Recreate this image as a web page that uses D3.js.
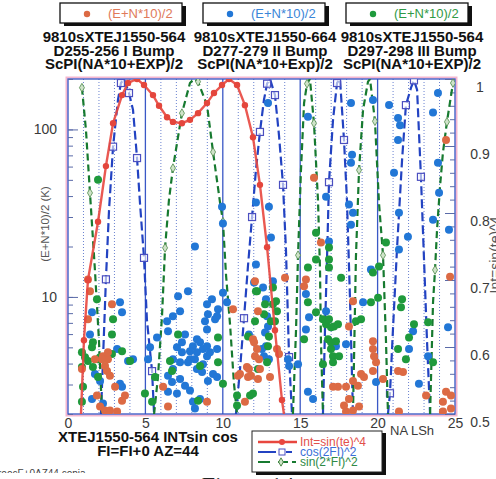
<!DOCTYPE html>
<html>
<head>
<meta charset="utf-8">
<script src="https://cdn.jsdelivr.net/npm/d3@7/dist/d3.min.js"></script>
<style>
  body { margin: 0; background: #fff; }
  svg { display: block; font-family: "Liberation Sans", Arial, sans-serif; }
</style>
</head>
<body>
<svg id="chart" width="496" height="479"></svg>
<script>
'use strict';

// ---- data ----
var xTickLabels = [0, 5, 10, 15, 20, 25];
var leftTickLabels = [10, 100];
var rightTickLabels = [0.5, 0.6, 0.7, 0.8, 0.9, 1];

var titleLine1 = ["9810sXTEJ1550-564", "9810sXTEJ1550-664", "9810sXTEJ1550-564"];
var titleLine2 = ["D255-256 I Bump", "D277-279 II Bump", "D297-298 III Bump"];
var titleLine3 = ["ScPI(NA*10+EXP)/2", "ScPI(NA*10+Exp)/2", "ScPI(NA*10+EXP)/2"];
var seriesNames = ["(E+N*10)/2", "(E+N*10)/2", "(E+N*10)/2"];
var curveNames = ["Int=sin(te)^4", "cos(2FI)^2", "sin(2*FI)^2"];

// Int=sin(te)^4 (right axis)
var intCurve = [[0.84,0.5],[1.03,0.61],[1.29,0.70],[1.94,0.787],[2.45,0.87],[2.91,0.934],[3.49,0.976],
  [3.88,0.994],[4.46,1.0],[4.91,0.991],[5.49,0.976],[5.88,0.96],[6.40,0.943],[6.78,0.936],[7.36,0.934],
  [7.88,0.939],[8.40,0.949],[8.98,0.964],[9.43,0.979],[9.95,0.991],[10.40,1.0],[10.92,0.991],[11.43,0.961],
  [11.95,0.913],[12.40,0.842],[12.86,0.749],[13.37,0.625],[13.82,0.521],[13.95,0.5]];

// cos(2FI)^2 (right axis), one array per visible arc
var cosCurve = [
  [[2.13,0.5],[2.33,0.625],[2.45,0.701],[2.65,0.804],[2.91,0.899],[3.23,0.969],[3.42,0.994],[3.62,1.0],
   [3.94,0.979],[4.20,0.954],[4.46,0.882],[4.65,0.815],[4.91,0.733],[5.10,0.64],[5.43,0.564],[5.56,0.5]],
  [[10.85,0.5],[11.11,0.566],[11.37,0.643],[11.63,0.722],[11.89,0.794],[12.14,0.864],[12.40,0.921],
   [12.66,0.969],[12.86,0.993],[13.05,1.0],[13.37,0.976],[13.63,0.916],[13.89,0.842],[14.08,0.745],
   [14.28,0.585],[14.47,0.5]],
  [[16.47,0.5],[16.60,0.625],[16.73,0.73],[16.86,0.846],[17.12,0.939],[17.38,0.994],[17.57,1.0],
   [17.83,0.909],[18.02,0.819],[18.22,0.67],[18.41,0.5]],
  [[20.67,0.5],[20.80,0.531],[20.99,0.625],[21.25,0.745],[21.58,0.879],[21.83,0.961],[22.16,0.987],
   [22.35,0.998],[22.55,0.984],[22.80,0.854],[23.0,0.73],[23.19,0.61],[23.39,0.5]]
];
var cosMarks = [[2.45,0.701],[2.91,0.899],[3.42,0.994],[3.94,0.979],[4.46,0.882],[4.91,0.733],[5.43,0.564],
  [11.37,0.643],[11.89,0.794],[12.40,0.921],[12.86,0.993],[13.37,0.976],[13.89,0.842],[14.28,0.585],
  [16.86,0.846],[17.38,0.994],[17.83,0.909],[20.80,0.531],[21.83,0.961],[22.35,0.998],[22.80,0.854]];

// sin(2*FI)^2 (right axis)
var sinCurve = [
  [[0.90,0.987],[1.16,0.924],[1.42,0.83],[1.74,0.715],[2.0,0.61],[2.20,0.5]],
  [[5.56,0.5],[5.81,0.555],[6.07,0.645],[6.27,0.748],[6.52,0.819],[6.78,0.867],[7.36,0.949],[7.88,0.994],
   [8.14,1.0],[8.40,0.996],[8.98,0.961],[9.37,0.891],[9.82,0.816],[10.01,0.787],[10.21,0.707],
   [10.47,0.633],[10.72,0.546],[10.92,0.5]],
  [[14.53,0.5],[14.73,0.625],[14.86,0.737],[15.05,0.864],[15.25,0.964],[15.44,0.993],[15.63,1.0],
   [15.89,0.934],[16.15,0.819],[16.28,0.715],[16.34,0.61],[16.47,0.5]],
  [[18.41,0.5],[18.60,0.734],[18.80,0.864],[19.06,0.954],[19.38,0.996],[19.51,1.0],[19.83,0.937],
   [20.09,0.815],[20.35,0.737],[20.54,0.61],[20.67,0.5]],
  [[23.39,0.5],[23.58,0.666],[23.71,0.715],[23.84,0.775],[24.03,0.839],[24.22,0.89],[24.48,0.936],[24.87,0.994]]
];
var sinMarks = [[0.90,0.987],[1.42,0.83],[6.27,0.748],[6.78,0.867],[7.36,0.949],[8.40,0.996],[9.37,0.891],
  [10.01,0.787],[14.86,0.737],[15.44,0.993],[15.89,0.934],[18.80,0.864],[19.83,0.937],[20.35,0.737],
  [23.71,0.715],[24.48,0.936],[24.87,0.994]];

// (E+N*10)/2 scatter, left log axis
var bumpI = [[1.29,12.7],[1.42,10.8],[1.29,7.35],[0.90,3.71],[1.74,4.25],[2.26,4.43],[2.58,4.25],[2.39,3.87],
  [2.52,3.61],[2.71,3.38],[2.84,9.03],[3.04,2.91],[3.68,2.58],[3.49,2.40],[1.87,2.58],[2.07,2.22],[2.39,2.10],
  [2.71,2.10],[3.17,2.07],[2.58,4.68],[2.20,4.25],[6.14,2.91],[6.46,2.22],[8.98,2.37],[10.66,8.44],[10.98,3.38],
  [11.11,3.47],[11.56,3.81],[11.63,3.33],[12.08,12.4],[12.27,8.21],[11.95,5.59],[12.21,4.88],[12.08,4.43],
  [12.40,3.71],[12.27,3.24],[13.05,3.33],[13.50,4.88],[14.02,13.0],[11.43,2.37],[15.37,12.7],[15.25,11.6],
  [12.02,5.36],[12.34,4.25],[11.69,3.71],[11.82,3.38],[13.63,4.56],[18.41,9.41],[18.15,6.67],[19.70,5.44],
  [19.70,4.88],[19.77,4.43],[19.90,4.08],[19.70,3.61],[18.93,3.47],[19.12,3.33],[18.73,2.95],[18.41,3.15],
  [17.96,2.91],[17.44,2.91],[17.12,2.91],[18.15,2.46],[17.83,2.25],[17.96,2.07],[18.41,2.10],[18.80,2.22],
  [21.32,3.61],[21.64,3.56],[21.38,2.07],[23.13,2.58],[24.22,2.37],[24.42,2.72],[24.74,2.58],[24.22,2.07],
  [24.74,2.16],[20.35,3.24],[15.89,51.5],[16.34,21.1],[24.42,86.6],[24.68,13.2]];

var bumpII = [[8.20,20.0],[9.95,34.6],[10.01,27.4],[12.14,36.6],[12.98,34.6],[13.11,22.6],[12.14,15.6],
  [12.92,144],[15.50,119],[16.67,39.7],[16.86,21.4],[18.28,144],[18.35,70.6],[18.28,63.3],[18.15,35.6],
  [18.41,31.8],[18.28,27.0],[19.70,150],[20.74,140],[21.32,117],[21.45,106],[21.32,86.6],[21.06,55.1],
  [21.38,31.8],[21.38,19.2],[21.96,22.9],[23.90,165],[23.58,126],[23.90,63.3],[23.97,41.9],[24.61,25.2],
  [23.58,28.9],[12.02,12.2],[12.79,9.67],[12.92,6.67],[12.66,4.43],[11.69,5.97],[14.28,3.87],[14.86,3.97],
  [15.37,10.4],[15.57,7.56],[15.37,6.40],[15.50,2.72],[15.83,2.46],[16.67,8.21],[17.31,5.08],[17.96,5.22],
  [19.06,9.28],[19.57,14.6],[19.90,3.11],[22.03,4.88],[22.29,6.23],[22.67,3.03],[23.26,4.43],[24.55,6.58],
  [12.79,5.08],[12.98,4.25],[3.36,9.28],[3.49,8.10],[1.55,8.10],[1.42,5.97],[3.17,4.88],[4.20,4.25],
  [3.88,4.14],[1.74,3.47],[2.07,3.15],[3.36,3.03],[3.49,2.91],[1.55,2.46],[2.26,2.31],[5.75,5.73],
  [6.40,7.15],[6.78,7.66],[7.24,8.21],[7.75,10.8],[7.11,10.1],[6.46,6.23],[7.04,5.01],[7.36,4.68],
  [6.78,4.25],[7.88,4.25],[6.78,3.71],[7.24,3.24],[7.75,4.08],[7.36,5.36],[7.56,5.97],[8.33,5.59],
  [8.53,5.36],[8.07,5.08],[8.72,4.88],[8.98,4.43],[8.33,3.71],[8.66,3.56],[8.20,4.25],[8.85,7.15],
  [8.98,6.40],[9.37,3.47],[9.30,9.67],[8.98,9.03],[9.69,8.44],[9.50,7.35],[10.01,10.6],[10.27,9.28],
  [6.46,2.72],[7.04,2.65],[7.56,2.95],[8.07,2.37],[8.20,2.16],[8.53,2.46],[6.46,3.38],[5.17,4.25],
  [5.30,5.01],[9.63,7.66],[9.04,7.88],[7.88,4.74],[7.24,4.08],[8.33,4.68],[8.98,5.08],[9.63,4.88],
  [9.17,4.68],[8.72,3.97],[6.72,3.11],[7.88,2.76],[9.04,3.15],[9.63,3.33],[12.60,11.4],[12.86,7.66],
  [13.24,12.4],[12.73,6.14],[12.53,4.88],[14.21,4.25]];

var bumpIII = [[1.87,9.67],[1.94,50.0],[0.90,4.68],[1.10,4.37],[1.29,4.14],[1.55,5.01],[1.61,5.36],
  [1.94,4.25],[2.07,4.37],[1.61,3.81],[1.94,3.33],[0.90,3.81],[0.97,2.91],[0.90,2.37],[2.91,7.35],
  [2.84,5.97],[2.84,4.56],[3.49,4.74],[4.97,2.65],[5.43,2.37],[6.59,4.14],[6.72,3.61],[7.11,5.97],
  [8.53,3.87],[9.69,5.73],[9.69,4.08],[10.01,3.03],[10.92,2.25],[4.01,4.14],[5.62,3.33],[8.40,2.40],
  [10.92,2.58],[12.21,10.8],[12.73,9.03],[13.24,11.4],[13.24,9.03],[13.37,7.15],[12.92,5.08],[12.08,7.15],
  [11.63,5.81],[12.86,4.08],[12.27,3.71],[11.76,2.58],[13.50,8.21],[15.50,15.0],[16.86,15.0],[17.64,13.0],
  [19.70,14.0],[20.09,15.2],[15.50,9.28],[15.25,5.59],[16.02,8.10],[16.47,7.35],[16.67,6.86],[16.86,7.35],
  [16.99,6.58],[17.18,6.67],[17.44,6.86],[16.80,5.59],[16.99,5.36],[17.31,5.44],[16.99,4.88],[17.12,4.43],
  [17.51,4.43],[17.12,4.08],[16.47,3.97],[18.60,7.15],[18.93,7.35],[19.57,9.28],[20.03,9.90],[21.51,8.68],
  [22.35,6.86],[22.03,5.73],[21.32,4.88],[21.83,4.25],[23.26,7.05],[23.58,4.08],[13.44,9.41],[12.98,5.81],
  [12.14,10.8],[12.66,7.88],[13.11,7.15],[11.95,2.65],[16.02,24.2],[16.86,19.7],[16.02,16.7],[16.86,16.7],
  [20.54,21.1],[21.58,9.67]];

// ---- layout ----
var svg = d3.select("#chart");
var L = 68, R = 455, T = 79, B = 414;

var colRedDot = "#dc6a44", colBlueDot = "#2277d6", colGreenDot = "#1f9a3c";
var colRedLine = "#e8473f", colBlueLine = "#2343c2", colGreenLine = "#177a30";

var x = d3.scaleLinear().domain([0, 25]).range([L, R]);
var yL = d3.scaleLog().domain([2, 200]).range([B, T]);
var yR = d3.scaleLinear().domain([0.5, 1]).range([B, T]);

svg.append("defs").append("clipPath").attr("id", "plotClip")
  .append("rect").attr("x", L).attr("y", T).attr("width", R - L).attr("height", B - T);

// vertical grid lines at each unit
svg.append("g").selectAll("line").data(d3.range(1, 25)).enter().append("line")
  .attr("x1", function (d) { return x(d); }).attr("x2", function (d) { return x(d); })
  .attr("y1", T).attr("y2", B)
  .attr("stroke", function (d) { return d % 5 === 0 ? "#3a58c6" : "#6a82d0"; })
  .attr("stroke-width", function (d) { return d % 5 === 0 ? 1.3 : 1; })
  .attr("stroke-dasharray", function (d) { return d % 5 === 0 ? null : "1,2"; });

// frame: pink halo just outside a blue line
svg.append("rect").attr("x", L - 1.5).attr("y", T - 1.5).attr("width", R - L + 3).attr("height", B - T + 3)
  .attr("fill", "none").attr("stroke", "#f4b6cf").attr("stroke-width", 2);
svg.append("rect").attr("x", L).attr("y", T).attr("width", R - L).attr("height", B - T)
  .attr("fill", "none").attr("stroke", "#3453c4").attr("stroke-width", 1.3);

// left axis ticks (inward)
var leftMinor = svg.append("g").attr("transform", "translate(" + L + ",0)")
  .call(d3.axisRight(yL).tickValues(yL.ticks()).tickSize(5).tickFormat(""));
var leftMajor = svg.append("g").attr("transform", "translate(" + L + ",0)")
  .call(d3.axisRight(yL).tickValues(leftTickLabels).tickSize(10).tickFormat(""));
var leftLab = svg.append("g").attr("transform", "translate(" + L + ",0)")
  .call(d3.axisLeft(yL).tickValues(leftTickLabels).tickSize(0).tickPadding(11).tickFormat(d3.format("d")));

// right axis ticks (inward)
var rightMinor = svg.append("g").attr("transform", "translate(" + R + ",0)")
  .call(d3.axisLeft(yR).tickValues(d3.range(0.5, 1.0001, 0.02)).tickSize(5).tickFormat(""));
var rightMajor = svg.append("g").attr("transform", "translate(" + R + ",0)")
  .call(d3.axisLeft(yR).tickValues(rightTickLabels).tickSize(10).tickFormat(""));
var rightLab = svg.append("g").attr("transform", "translate(" + R + ",0)")
  .call(d3.axisRight(yR).tickValues(rightTickLabels).tickSize(0).tickFormat(d3.format("")));
rightLab.selectAll("text").attr("x", 25).attr("text-anchor", "middle").attr("transform", "translate(0,8)");

var xLab = svg.append("g").attr("transform", "translate(0," + B + ")")
  .call(d3.axisBottom(x).tickValues(xTickLabels).tickSize(0).tickPadding(4));

[leftMinor, leftMajor, rightMinor, rightMajor].forEach(function (g) {
  g.select(".domain").remove();
  g.selectAll("line").attr("stroke", "#5a6aa8").attr("stroke-width", 1);
});
[leftLab, rightLab, xLab].forEach(function (g) {
  g.select(".domain").remove();
  g.selectAll("text").attr("fill", "#3a3a3a").style("font-size", "14px")
    .style("font-family", "'Liberation Sans', Arial, sans-serif");
});

svg.append("text").attr("x", 390).attr("y", 435).attr("text-anchor", "start")
  .attr("fill", "#3a3a3a").style("font-size", "13px").text("NA LSh");

// axis titles
svg.append("text").attr("transform", "translate(49,224) rotate(-90)").attr("text-anchor", "middle")
  .attr("fill", "#555").style("font-size", "11.5px").text("(E+N*10)/2 (K)");
svg.append("text").attr("transform", "translate(500,255) rotate(-90)").attr("text-anchor", "middle")
  .attr("fill", "#555").style("font-size", "14px").text("Int=sin(te)^4");

// ---- curves ----
var plot = svg.append("g").attr("clip-path", "url(#plotClip)");
var lineR = d3.line().x(function (d) { return x(d[0]); }).y(function (d) { return yR(d[1]); });

plot.selectAll("path.cos").data(cosCurve).enter().append("path").attr("class", "cos")
  .attr("d", lineR).attr("fill", "none").attr("stroke", colBlueLine)
  .attr("stroke-width", 2.2).attr("stroke-dasharray", "9,4");
plot.selectAll("rect.cosm").data(cosMarks).enter().append("rect").attr("class", "cosm")
  .attr("x", function (d) { return x(d[0]) - 3.5; }).attr("y", function (d) { return yR(d[1]) - 3.5; })
  .attr("width", 7).attr("height", 7).attr("fill", "#fff").attr("fill-opacity", 0.6)
  .attr("stroke", "#4b4fc0").attr("stroke-width", 1.2);

plot.selectAll("path.sin").data(sinCurve).enter().append("path").attr("class", "sin")
  .attr("d", lineR).attr("fill", "none").attr("stroke", colGreenLine)
  .attr("stroke-width", 2.2).attr("stroke-dasharray", "7,4");
plot.selectAll("path.sinm").data(sinMarks).enter().append("path").attr("class", "sinm")
  .attr("transform", function (d) { return "translate(" + x(d[0]) + "," + yR(d[1]) + ")"; })
  .attr("d", d3.symbol().type(d3.symbolDiamond).size(22))
  .attr("fill", "#cfe3c9").attr("stroke", "#4f8a4a").attr("stroke-width", 0.8);

// ---- scatter ----
function dots(data, color) {
  plot.append("g").selectAll("circle").data(data).enter().append("circle")
    .attr("cx", function (d) { return x(d[0]); }).attr("cy", function (d) { return yL(d[1]); })
    .attr("r", 4).attr("fill", color);
}
dots(bumpII, colBlueDot);
dots(bumpIII, colGreenDot);
dots(bumpI, colRedDot);

plot.append("path").datum(intCurve).attr("d", lineR).attr("fill", "none")
  .attr("stroke", colRedLine).attr("stroke-width", 2.4).attr("stroke-opacity", 0.9);
plot.selectAll("circle.intm").data(intCurve.slice(1, -1)).enter().append("circle").attr("class", "intm")
  .attr("cx", function (d) { return x(d[0]); }).attr("cy", function (d) { return yR(d[1]); })
  .attr("r", 3.2).attr("fill", "#e4463c");

// ---- top legend boxes and titles ----
var boxX = [60, 203, 346];
var dotCols = [colRedDot, colBlueDot, colGreenDot];
var txtCols = ["#e07a5a", "#3a86d8", "#2f9a46"];
var titleX = [114, 265, 412];
boxX.forEach(function (bx, i) {
  svg.append("rect").attr("x", bx + 4).attr("y", 6).attr("width", 122).attr("height", 20).attr("fill", "#111");
  svg.append("rect").attr("x", bx).attr("y", 3).attr("width", 122).attr("height", 20)
    .attr("fill", "#fff").attr("stroke", "#111").attr("stroke-width", 1.3);
  svg.append("circle").attr("cx", bx + 27).attr("cy", 14).attr("r", 3.2).attr("fill", dotCols[i]);
  svg.append("text").attr("x", bx + 48).attr("y", 18).attr("fill", txtCols[i])
    .style("font-size", "13px").text(seriesNames[i]);
  [titleLine1, titleLine2, titleLine3].forEach(function (lines, k) {
    svg.append("text").attr("x", titleX[i]).attr("y", 42 + k * 13.5).attr("text-anchor", "middle")
      .attr("fill", "#111").style("font-size", "15px").style("font-weight", "bold").text(lines[i]);
  });
});

// ---- bottom texts ----
svg.append("text").attr("x", 148).attr("y", 442).attr("text-anchor", "middle").attr("fill", "#111")
  .style("font-size", "15px").style("font-weight", "bold").text("XTEJ1550-564 INTsin cos");
svg.append("text").attr("x", 148).attr("y", 456).attr("text-anchor", "middle").attr("fill", "#111")
  .style("font-size", "15px").style("font-weight", "bold").text("FI=FI+0 AZ=44");

// bottom legend
var lg = svg.append("g");
lg.append("rect").attr("x", 256).attr("y", 433).attr("width", 130).attr("height", 42).attr("fill", "#111");
lg.append("rect").attr("x", 252).attr("y", 431).attr("width", 130).attr("height", 41)
  .attr("fill", "#fff").attr("stroke", "#222").attr("stroke-width", 1);
var legY = [442, 452, 462];
lg.append("line").attr("x1", 258).attr("x2", 297).attr("y1", legY[0]).attr("y2", legY[0])
  .attr("stroke", colRedLine).attr("stroke-width", 2.4);
lg.append("circle").attr("cx", 282).attr("cy", legY[0]).attr("r", 3).attr("fill", colRedLine);
lg.append("line").attr("x1", 258).attr("x2", 296).attr("y1", legY[1]).attr("y2", legY[1])
  .attr("stroke", colBlueLine).attr("stroke-width", 2).attr("stroke-dasharray", "18,10,6,4");
lg.append("rect").attr("x", 279).attr("y", legY[1] - 3).attr("width", 6).attr("height", 6)
  .attr("fill", "#fff").attr("stroke", "#4b4fc0");
lg.append("line").attr("x1", 258).attr("x2", 296).attr("y1", legY[2]).attr("y2", legY[2])
  .attr("stroke", colGreenLine).attr("stroke-width", 2).attr("stroke-dasharray", "12,8,10,4,4");
lg.append("path").attr("transform", "translate(281," + legY[2] + ")")
  .attr("d", d3.symbol().type(d3.symbolDiamond).size(20)).attr("fill", "#cfe3c9").attr("stroke", "#4f8a4a");
var legCols = ["#e2504a", "#3a6fd8", "#2f8a46"];
curveNames.forEach(function (n, i) {
  lg.append("text").attr("x", 300).attr("y", legY[i] + 4).attr("fill", legCols[i])
    .style("font-size", "12px").text(n);
});

// clipped scan remnants at the bottom edge
svg.append("text").attr("x", -2).attr("y", 477).attr("fill", "#444").style("font-size", "10px")
  .text("roocF+0AZ44.copia");
svg.append("rect").attr("x", 0).attr("y", 473).attr("width", 120).attr("height", 6).attr("fill", "#fff");
svg.append("text").attr("x", 248).attr("y", 493).attr("text-anchor", "middle").attr("fill", "#222")
  .style("font-family", "'Liberation Serif', 'Times New Roman', serif").style("font-size", "24px")
  .text("Figure 14");
</script>
</body>
</html>
